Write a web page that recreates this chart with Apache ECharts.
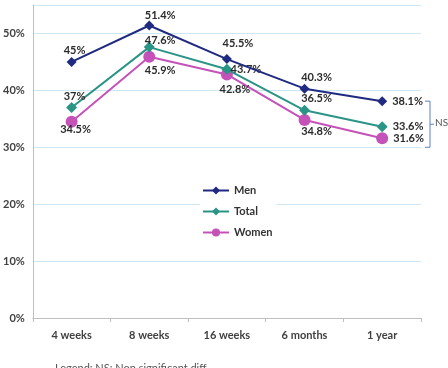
<!DOCTYPE html>
<html>
<head>
<meta charset="utf-8">
<script src="https://cdn.jsdelivr.net/npm/echarts@6/dist/echarts.min.js"></script>
<style>
  html, body { margin: 0; padding: 0; background: #fff; }
  #chart { width: 448px; height: 368px; }
</style>
</head>
<body>
<div id="chart"></div>
<script>
const categories = ['4 weeks', '8 weeks', '16 weeks', '6 months', '1 year']
const men = [45, 51.4, 45.5, 40.3, 38.1]
const total = [37, 47.6, 43.7, 36.5, 33.6]
const women = [34.5, 45.9, 42.8, 34.8, 31.6]
const menLabels = ['45%', '51.4%', '45.5%', '40.3%', '38.1%']
const totalLabels = ['37%', '47.6%', '43.7%', '36.5%', '33.6%']
const womenLabels = ['34.5%', '45.9%', '42.8%', '34.8%', '31.6%']

// label placement per point (centre offset from the marker, last one to the right)
const menPos = [['inside', [3, -11]], ['inside', [11, -10]], ['inside', [11, -16]], ['inside', [12, -11]], ['right', [0, 0]]]
const totalPos = [['inside', [3, -11]], ['inside', [11, -7]], ['inside', [19, 0]], ['inside', [12, -12]], ['right', [0, 0]]]
const womenPos = [['inside', [4, 8]], ['inside', [11, 14]], ['inside', [8, 15]], ['inside', [12, 11]], ['right', [0, 0]]]

const labelStyle = {
  show: true,
  fontFamily: 'Lato',
  fontWeight: 'bold',
  fontSize: 11,
  color: '#2b2b2b'
}

function build(values, labels, pos) {
  return values.map((v, i) => ({
    value: v,
    label: Object.assign({}, labelStyle, {
      position: pos[i][0],
      offset: pos[i][1],
      formatter: labels[i]
    })
  }))
}

const chart = echarts.init(document.getElementById('chart'))
chart.setOption({
  animation: false,
  grid: { left: 32, right: 27, top: 5, bottom: 50 },
  legend: {
    orient: 'vertical',
    left: 200,
    top: 183,
    itemWidth: 26,
    itemHeight: 10,
    itemGap: 10,
    backgroundColor: '#fff',
    padding: [2, 4, 2, 2],
    textStyle: { fontFamily: 'Lato', fontWeight: 'bold', fontSize: 11, color: '#333' },
    data: ['Men', 'Total', 'Women']
  },
  xAxis: {
    type: 'category',
    data: categories,
    boundaryGap: true,
    axisLine: { lineStyle: { color: '#bfbfbf' } },
    axisTick: { show: true, length: 4, lineStyle: { color: '#bfbfbf' } },
    axisLabel: { fontFamily: 'Lato', fontWeight: 'bold', fontSize: 11, color: '#404040', margin: 12 }
  },
  yAxis: {
    type: 'value',
    min: 0,
    max: 55,
    interval: 10,
    axisLine: { show: true, lineStyle: { color: '#bfbfbf' } },
    axisTick: { show: false },
    axisLabel: {
      fontFamily: 'Lato', fontWeight: 'bold', fontSize: 11, color: '#404040', margin: 8,
      showMaxLabel: false,
      formatter: v => (v % 10 === 0 ? v + '%' : '')
    },
    splitLine: { lineStyle: { color: '#cfe6f3' } }
  },
  series: [
    {
      name: 'Men', type: 'line', data: build(men, menLabels, menPos),
      symbol: 'diamond', symbolSize: 10,
      color: '#1f2a80', lineStyle: { width: 2 }, z: 3
    },
    {
      name: 'Total', type: 'line', data: build(total, totalLabels, totalPos),
      symbol: 'diamond', symbolSize: 11,
      color: '#2a9486', lineStyle: { width: 2 }, z: 2
    },
    {
      name: 'Women', type: 'line', data: build(women, womenLabels, womenPos),
      symbol: 'circle', symbolSize: 12,
      color: '#c452b8', lineStyle: { width: 2 }, z: 1
    }
  ]
})

// NS bracket next to the last points
const nsTop = chart.convertToPixel({ yAxisIndex: 0 }, men[4])
const nsBot = chart.convertToPixel({ yAxisIndex: 0 }, 30)
const nsMid = (nsTop + nsBot) / 2
chart.setOption({
  graphic: [
    {
      type: 'polyline',
      shape: { points: [[425, nsTop], [430, nsTop], [430, nsBot], [425, nsBot]] },
      style: { stroke: '#5b80c8', lineWidth: 1, fill: null }
    },
    {
      type: 'line',
      shape: { x1: 430, y1: nsMid, x2: 434, y2: nsMid },
      style: { stroke: '#5b80c8', lineWidth: 1 }
    },
    {
      type: 'text', left: 435, top: nsMid - 6,
      style: { text: 'NS', fontFamily: 'Lato', fontSize: 10, fill: '#555' }
    },
    {
      type: 'text', left: 55, top: 363,
      style: { text: 'Legend: NS: Non significant diff', fontFamily: 'Lato', fontSize: 11, fill: '#555' }
    }
  ]
})
</script>
</body>
</html>
